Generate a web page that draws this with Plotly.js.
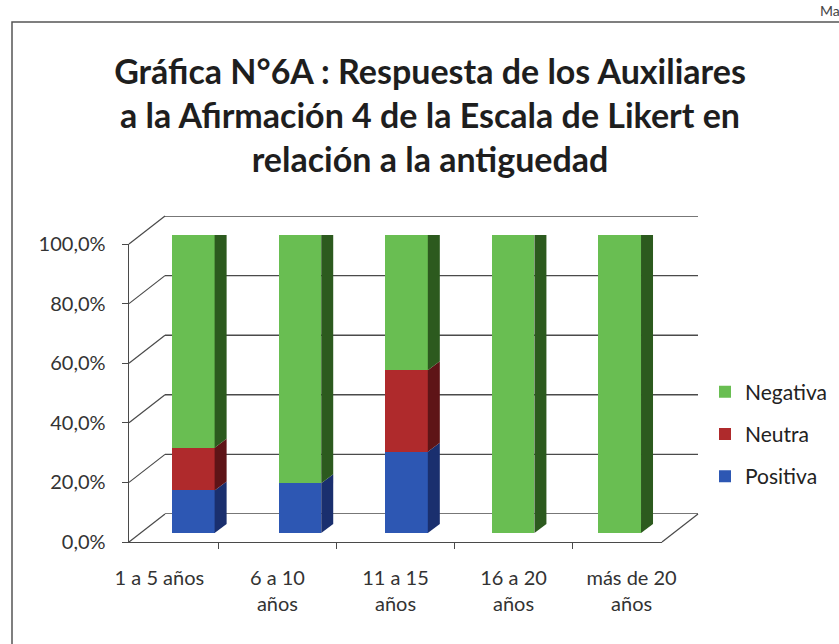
<!DOCTYPE html>
<html>
<head>
<meta charset="utf-8">
<script src="https://cdn.plot.ly/plotly-3.0.1.min.js"></script>
<style>html,body{margin:0;padding:0;background:#fff;}#chart{width:839px;height:644px;}</style>
</head>
<body>
<div id="chart"></div>
<script>
// ---- data ----
const categories = ["1 a 5 años", "6 a 10 años", "11 a 15 años", "16 a 20 años", "más de 20 años"];
const categoryLabels = ["1 a 5 años", "6 a 10<br>años", "11 a 15<br>años", "16 a 20<br>años", "más de 20<br>años"];
const positiva = [14.3, 16.7, 27.3, 0, 0];
const neutra   = [14.3, 0, 27.3, 0, 0];
const negativa = [71.4, 83.3, 45.5, 100, 100];
const yTicks = [0, 20, 40, 60, 80, 100];
const yTickText = ["0,0%", "20,0%", "40,0%", "60,0%", "80,0%", "100,0%"];

// ---- geometry (pixels in 839x644 page) ----
const W = 839, H = 644;
const px = v => v / W;
const py = v => 1 - v / H;
const front = {x0: 129, x1: 662, y0: 542, y1: 244};   // front plane (axes, labels)
const back  = {dx: 36, dy: -28};                      // back wall offset
const barOff = {dx: 11, dy: -9};                      // bar front-face offset
const depth = {dx: 12, dy: -9};                       // bar depth
const barWidth = 0.4;

const dom = (o) => ({
  x: [px(front.x0 + o.dx), px(front.x1 + o.dx)],
  y: [py(front.y0 + o.dy), py(front.y1 + o.dy)]
});
const d1 = dom({dx: 0, dy: 0});
const d2 = dom(barOff);
const d3 = dom(back);

const catStep = (front.x1 - front.x0) / categories.length;
const ddx = depth.dx / catStep;                       // in x2 data units
const ddy = -depth.dy / (front.y0 - front.y1) * 100;  // in y2 data units

const colors = {
  Positiva: {front: "#2D57B3", side: "#1A2F6E", top: "#24449A"},
  Neutra:   {front: "#AF2A2C", side: "#5E1417", top: "#7E1C1F"},
  Negativa: {front: "#69BE52", side: "#2C5A1E", top: "#3D7C2C"}
};
const seriesList = [["Positiva", positiva], ["Neutra", neutra], ["Negativa", negativa]];

const traces = [];
// dummy trace for category axis of front plane
traces.push({type: "scatter", x: categories, y: categories.map(() => 0), xaxis: "x", yaxis: "y",
  mode: "markers", marker: {opacity: 0}, showlegend: false, hoverinfo: "skip"});

// bar fronts
seriesList.forEach(([name, vals], k) => {
  traces.push({type: "bar", name: name, x: categories.map((c, i) => i), y: vals,
    xaxis: "x2", yaxis: "y2", width: barWidth,
    marker: {color: colors[name].front, line: {width: 0}},
    legendgroup: name, legendrank: 3 - k, hoverinfo: "y+name"});
});

// side and top faces (pseudo 3D), computed from the data through x2/y2 scales
categories.forEach((c, i) => {
  let base = 0;
  let topName = null, topVal = 0;
  seriesList.forEach(([name, vals]) => {
    const v = vals[i];
    if (v > 0) {
      const xr = i + barWidth / 2;
      traces.push({type: "scatter", mode: "lines", xaxis: "x2", yaxis: "y2",
        x: [xr, xr + ddx, xr + ddx, xr, xr],
        y: [base, base + ddy, base + v + ddy, base + v, base],
        fill: "toself", fillcolor: colors[name].side, line: {width: 0},
        showlegend: false, hoverinfo: "skip"});
      topName = name; topVal = base + v;
    }
    base += v;
  });
  if (topName) {
    const xl = i - barWidth / 2, xr = i + barWidth / 2;
    traces.push({type: "scatter", mode: "lines", xaxis: "x2", yaxis: "y2",
      x: [xl, xl + ddx, xr + ddx, xr, xl],
      y: [topVal, topVal + ddy, topVal + ddy, topVal, topVal],
      fill: "toself", fillcolor: colors[topName].top, line: {width: 0},
      showlegend: false, hoverinfo: "skip"});
  }
});

// ---- decoration shapes ----
const shapes = [];
const lineCol = "#4a4a4a";
yTicks.forEach(v => {
  shapes.push({type: "line", xref: "x3 domain", yref: "y3", x0: 0, x1: 1, y0: v, y1: v,
    line: {color: lineCol, width: 1.4}, layer: "below"});
  const yf = d1.y[0] + v / 100 * (d1.y[1] - d1.y[0]);
  const yb = d3.y[0] + v / 100 * (d3.y[1] - d3.y[0]);
  shapes.push({type: "line", xref: "paper", yref: "paper", x0: d1.x[0], x1: d3.x[0], y0: yf, y1: yb,
    line: {color: lineCol, width: 1.2}, layer: "below"});
});
shapes.push({type: "line", xref: "paper", yref: "paper", x0: d1.x[1], x1: d3.x[1], y0: d1.y[0], y1: d3.y[0],
  line: {color: lineCol, width: 1.2}, layer: "below"});
shapes.push({type: "rect", xref: "paper", yref: "paper", x0: px(12), x1: 1.02, y0: -0.02, y1: py(22),
  line: {color: "#555", width: 1.5}, layer: "below"});

const font = "Lato, 'Open Sans', sans-serif";

const layout = {
  width: W, height: H,
  margin: {l: 0, r: 0, t: 0, b: 0},
  paper_bgcolor: "#fff", plot_bgcolor: "rgba(0,0,0,0)",
  barmode: "stack",
  font: {family: font, color: "#333", size: 16},
  title: {text: "<b>Gráfica N°6A : Respuesta de los Auxiliares<br>a la Afirmación 4 de la Escala de Likert en<br>relación a la antiguedad</b>",
    x: px(430), xanchor: "center", y: py(84), yanchor: "middle",
    font: {family: font, size: 34, color: "#1e1e1e"}},
  xaxis: {domain: d1.x, anchor: "y", type: "category", categoryarray: categories,
    tickmode: "array", tickvals: categories, ticktext: categoryLabels, tickson: "boundaries",
    showline: true, linecolor: lineCol, linewidth: 1.4, ticks: "outside", ticklen: 6, tickcolor: lineCol,
    showgrid: false, zeroline: false, ticklabelstandoff: 18, tickfont: {size: 20, color: "#333"}, fixedrange: true},
  yaxis: {domain: d1.y, anchor: "x", range: [0, 100], tickmode: "array", tickvals: yTicks, ticktext: yTickText,
    showline: true, linecolor: lineCol, linewidth: 1.4, ticks: "outside", ticklen: 6, tickcolor: lineCol,
    showgrid: false, zeroline: false, ticklabelstandoff: 12, tickfont: {size: 20, color: "#333"}, fixedrange: true},
  xaxis2: {domain: d2.x, anchor: "y2", range: [-0.5, 4.5], visible: false, fixedrange: true},
  yaxis2: {domain: d2.y, anchor: "x2", range: [0, 100], visible: false, fixedrange: true},
  xaxis3: {domain: d3.x, anchor: "y3", range: [0, 1], visible: false, fixedrange: true},
  yaxis3: {domain: d3.y, anchor: "x3", range: [0, 100], visible: false, fixedrange: true},
  legend: {x: px(705), xanchor: "left", y: py(434), yanchor: "middle",
    font: {size: 21, color: "#222"}, tracegroupgap: 12, itemwidth: 30, bgcolor: "rgba(0,0,0,0)"},
  shapes: shapes,
  annotations: [{text: "Ma", xref: "paper", yref: "paper", x: px(818), y: 1, xanchor: "left", yanchor: "top",
    showarrow: false, font: {size: 14, color: "#444"}}]
};

Plotly.newPlot("chart", traces, layout, {displayModeBar: false, staticPlot: true});
</script>
</body>
</html>
